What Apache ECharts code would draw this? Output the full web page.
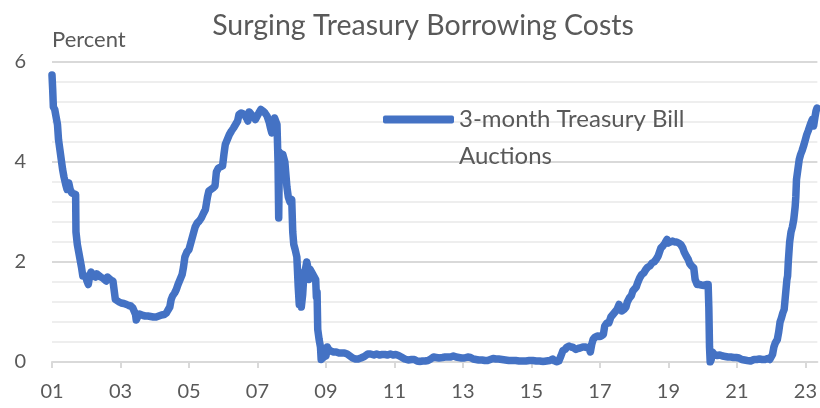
<!DOCTYPE html>
<html><head><meta charset="utf-8">
<script src="https://cdn.jsdelivr.net/npm/echarts@6/dist/echarts.min.js"></script>
<style>html,body{margin:0;padding:0;background:#fff}#c{width:820px;height:408px}</style>
</head><body><div id="c"></div>
<script>
const chartTitle = "Surging Treasury Borrowing Costs";
const seriesName = "3-month Treasury Bill\nAuctions";
const yUnit = "Percent";
const startYear = 2001;
const xTickYears = [2001,2003,2005,2007,2009,2011,2013,2015,2017,2019,2021,2023];
const yTicks = [0,2,4,6];
const dates = [
2001.00,2001.02,2001.04,2001.08,2001.12,2001.16,2001.19,2001.23,2001.27,2001.31,2001.35,2001.40,2001.44,2001.49,2001.53,2001.58,2001.63,2001.69,2001.70,2001.74,2001.78,2001.82,2001.86,2001.90,2001.94,2001.98,
2002.02,2002.06,2002.10,2002.14,2002.18,2002.22,2002.27,2002.31,2002.36,2002.42,2002.48,2002.53,2002.58,2002.62,2002.66,2002.72,2002.78,2002.83,2002.85,2002.90,2002.96,
2003.02,2003.10,2003.18,2003.24,2003.30,2003.36,2003.40,2003.44,2003.46,2003.50,2003.55,2003.60,2003.66,2003.72,2003.80,2003.88,2003.96,
2004.04,2004.12,2004.20,2004.28,2004.34,2004.38,2004.44,2004.48,2004.52,2004.58,2004.63,2004.68,2004.74,2004.80,2004.84,2004.88,2004.94,
2005.00,2005.06,2005.12,2005.18,2005.24,2005.30,2005.36,2005.42,2005.48,2005.54,2005.58,2005.64,2005.70,2005.76,2005.80,2005.86,2005.92,2005.98,
2006.02,2006.06,2006.12,2006.18,2006.24,2006.30,2006.36,2006.42,2006.46,2006.52,2006.56,2006.62,2006.68,2006.72,2006.76,2006.82,2006.88,2006.94,2006.98,
2007.04,2007.10,2007.16,2007.22,2007.28,2007.34,2007.38,2007.42,2007.46,2007.50,2007.54,2007.57,2007.60,2007.62,2007.64,2007.68,2007.74,2007.80,2007.86,2007.90,2007.95,
2008.00,2008.03,2008.06,2008.10,2008.15,2008.19,2008.22,2008.25,2008.28,2008.32,2008.36,2008.40,2008.44,2008.47,2008.50,2008.54,2008.58,2008.62,2008.66,2008.70,2008.72,2008.74,2008.76,2008.80,2008.84,2008.86,2008.90,2008.94,
2009.00,2009.04,2009.08,2009.14,2009.22,2009.30,2009.38,2009.46,2009.54,2009.62,2009.70,2009.78,2009.86,2009.94,
2010.02,2010.12,2010.22,2010.30,2010.40,2010.48,2010.56,2010.64,2010.72,2010.80,2010.88,2010.96,
2011.04,2011.12,2011.20,2011.30,2011.40,2011.50,2011.58,2011.66,2011.74,2011.82,2011.90,2011.98,
2012.06,2012.14,2012.22,2012.30,2012.40,2012.48,2012.56,2012.64,2012.72,2012.80,2012.88,2012.96,
2013.04,2013.14,2013.22,2013.30,2013.38,2013.46,2013.56,2013.64,2013.72,2013.80,2013.88,2013.96,
2014.04,2014.14,2014.24,2014.34,2014.44,2014.54,2014.64,2014.74,2014.84,2014.94,
2015.04,2015.14,2015.24,2015.34,2015.44,2015.54,2015.62,2015.68,2015.74,2015.80,2015.86,2015.92,2015.98,
2016.04,2016.10,2016.16,2016.22,2016.30,2016.36,2016.42,2016.50,2016.56,2016.62,2016.68,2016.72,2016.76,2016.80,2016.86,2016.92,2016.98,
2017.04,2017.10,2017.14,2017.20,2017.26,2017.32,2017.38,2017.44,2017.50,2017.56,2017.60,2017.64,2017.70,2017.76,2017.80,2017.86,2017.92,2017.96,
2018.00,2018.06,2018.10,2018.16,2018.22,2018.28,2018.34,2018.40,2018.46,2018.52,2018.58,2018.64,2018.70,2018.74,2018.78,2018.84,2018.90,2018.96,
2019.00,2019.06,2019.12,2019.18,2019.24,2019.30,2019.36,2019.42,2019.46,2019.52,2019.58,2019.62,2019.68,2019.74,2019.78,2019.84,2019.90,2019.96,
2020.04,2020.10,2020.16,2020.18,2020.20,2020.22,2020.25,2020.28,2020.34,2020.42,2020.50,2020.58,2020.66,2020.74,2020.82,2020.90,2020.98,
2021.06,2021.14,2021.22,2021.30,2021.40,2021.50,2021.58,2021.66,2021.74,2021.82,2021.90,2021.96,
2022.00,2022.04,2022.08,2022.12,2022.18,2022.22,2022.26,2022.30,2022.34,2022.38,2022.40,2022.44,2022.46,2022.48,2022.50,2022.54,2022.58,2022.62,2022.66,2022.70,2022.72,2022.74,2022.78,2022.82,2022.86,2022.90,2022.96,
2023.00,2023.04,2023.08,2023.12,2023.16,2023.20,2023.24,2023.28,2023.31,2023.34
];
const rates = [
5.74,5.45,5.10,5.05,4.90,4.75,4.45,4.25,4.05,3.85,3.70,3.55,3.45,3.58,3.45,3.38,3.38,3.35,2.60,2.35,2.20,2.05,1.90,1.72,1.70,1.72,
1.62,1.55,1.72,1.80,1.74,1.78,1.70,1.76,1.72,1.70,1.68,1.66,1.62,1.70,1.66,1.64,1.62,1.65,1.25,1.22,1.20,
1.18,1.17,1.15,1.13,1.12,1.08,1.05,0.95,0.84,0.90,0.96,0.94,0.93,0.92,0.92,0.91,0.90,
0.90,0.92,0.94,0.95,0.98,1.03,1.10,1.25,1.32,1.38,1.45,1.55,1.65,1.75,1.90,2.10,2.20,
2.25,2.40,2.55,2.70,2.78,2.82,2.88,2.97,3.05,3.30,3.42,3.45,3.48,3.52,3.80,3.88,3.90,3.92,
4.15,4.35,4.45,4.55,4.62,4.68,4.75,4.82,4.95,4.98,4.96,4.95,4.88,4.82,5.00,4.95,4.92,4.85,4.88,
4.98,5.05,5.02,4.98,4.92,4.80,4.68,4.58,4.75,4.88,4.92,4.75,4.00,2.88,4.20,4.10,4.15,4.00,3.50,3.30,3.20,
3.25,2.60,2.35,2.25,2.10,1.50,1.15,1.30,1.10,1.35,1.80,1.85,2.00,1.90,1.65,1.85,1.80,1.80,1.70,1.65,1.30,1.40,0.65,0.45,0.30,0.05,0.02,0.10,
0.12,0.30,0.25,0.22,0.20,0.20,0.18,0.18,0.18,0.16,0.12,0.08,0.06,0.06,
0.08,0.11,0.16,0.16,0.14,0.16,0.14,0.15,0.15,0.14,0.16,0.14,
0.15,0.13,0.10,0.06,0.04,0.05,0.05,0.02,0.01,0.02,0.02,0.03,
0.06,0.10,0.09,0.08,0.09,0.10,0.10,0.10,0.12,0.10,0.09,0.08,
0.08,0.10,0.09,0.06,0.05,0.04,0.04,0.03,0.03,0.05,0.07,0.06,
0.06,0.05,0.04,0.03,0.03,0.03,0.02,0.02,0.02,0.03,
0.03,0.02,0.02,0.01,0.02,0.03,0.06,0.02,0.00,0.02,0.12,0.23,0.25,
0.30,0.32,0.30,0.29,0.25,0.27,0.28,0.30,0.30,0.29,0.28,0.20,0.35,0.45,0.50,0.52,0.51,
0.52,0.55,0.72,0.78,0.78,0.90,0.95,1.00,1.05,1.15,1.10,1.02,1.05,1.10,1.20,1.28,1.33,1.42,
1.45,1.50,1.58,1.68,1.75,1.78,1.85,1.90,1.92,1.98,2.00,2.05,2.12,2.20,2.28,2.32,2.38,2.45,
2.38,2.40,2.42,2.40,2.40,2.38,2.35,2.28,2.20,2.12,2.05,1.97,1.92,1.88,1.65,1.55,1.55,1.54,
1.53,1.55,1.55,1.10,0.30,0.00,0.05,0.20,0.15,0.13,0.14,0.12,0.11,0.10,0.10,0.09,0.09,
0.08,0.05,0.04,0.03,0.02,0.05,0.05,0.06,0.05,0.05,0.07,0.05,
0.08,0.15,0.30,0.38,0.45,0.60,0.80,0.88,0.98,1.05,1.20,1.50,1.65,1.72,2.00,2.40,2.60,2.70,2.85,3.10,3.30,3.65,3.85,4.05,4.15,4.22,4.35,
4.45,4.55,4.62,4.70,4.78,4.85,4.72,4.90,5.02,5.08
];

const FONT = 'Lato';
const TXT = '#595959';
const pad2 = v => String(v % 100).padStart(2, '0');
const data = dates.map((d, i) => [d - startYear, rates[i]]);
const xTicks = xTickYears.map(y => y - startYear);

const chart = echarts.init(document.getElementById('c'), null, {renderer: 'canvas'});
chart.setOption({
  animation: false,
  backgroundColor: '#fff',
  title: {
    text: chartTitle, left: 418, top: 6, textAlign: 'center',
    textStyle: {fontFamily: FONT, fontSize: 28.5, fontWeight: 'normal', color: TXT}
  },
  legend: {
    left: 383, top: 64, padding: 0,
    icon: 'roundRect', itemWidth: 71, itemHeight: 8,
    data: [seriesName],
    formatter: name => ' \n' + name,
    textStyle: {fontFamily: FONT, fontSize: 24, color: TXT, lineHeight: 37}
  },
  grid: {left: 52, right: 2, top: 62, bottom: 46},
  xAxis: {
    type: 'value', min: 0, max: 22.35, interval: 2,
    axisLine: {show: true, lineStyle: {color: '#d9d9d9', width: 2}},
    axisTick: {show: true, length: 6, customValues: xTicks, lineStyle: {color: '#d9d9d9', width: 2}},
    axisLabel: {customValues: xTicks, formatter: v => pad2(Math.round(v) + startYear), fontFamily: FONT, fontSize: 20, color: TXT, margin: 20},
    splitLine: {show: false}
  },
  yAxis: {
    type: 'value', min: 0, max: 6, interval: 2,
    name: yUnit, nameLocation: 'end', nameGap: 22,
    nameTextStyle: {fontFamily: FONT, fontSize: 22, color: TXT, align: 'left', verticalAlign: 'middle'},
    axisLine: {show: false}, axisTick: {show: false},
    axisLabel: {customValues: yTicks, fontFamily: FONT, fontSize: 20, color: TXT, margin: 26},
    splitLine: {show: true, lineStyle: {color: '#d9d9d9', width: 2}},
    minorTick: {show: false, splitNumber: 5},
    minorSplitLine: {show: true, lineStyle: {color: '#eeeeee', width: 2}}
  },
  series: [{
    name: seriesName, type: 'line', data: data,
    showSymbol: false, symbol: 'none',
    itemStyle: {color: '#4472C4'},
    lineStyle: {color: '#4472C4', width: 7.5, cap: 'round', join: 'round'}
  }]
});
</script></body></html>
